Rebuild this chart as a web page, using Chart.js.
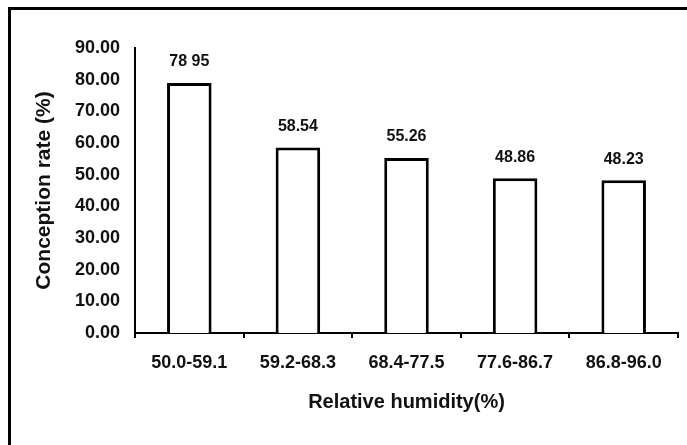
<!DOCTYPE html>
<html lang="en">
<head>
    <meta charset="UTF-8">
    <title>Conception rate by relative humidity</title>
    <script src="https://cdn.jsdelivr.net/npm/chart.js"></script>
    <style>
        body {
            margin: 0;
            background-color: #fff;
            width: 687px;
            height: 445px;
            overflow: hidden;
            position: relative;
        }
        #humidityChart {
            position: absolute;
            left: 0;
            top: 0;
        }
        /* scanned frame: only top and left edges are visible */
        .frame {
            position: absolute;
            left: 8px;
            top: 7px;
            width: 700px;
            height: 460px;
            border-top: 3px solid #000;
            border-left: 3px solid #000;
            pointer-events: none;
        }
    </style>
</head>
<body>
    <canvas id="humidityChart" width="687" height="445"></canvas>
    <div class="frame"></div>

    <script>
        // Data
        const humidityRanges = ['50.0-59.1', '59.2-68.3', '68.4-77.5', '77.6-86.7', '86.8-96.0'];
        const conceptionRates = [78.95, 58.54, 55.26, 48.86, 48.23];
        const valueLabels = ['78 95', '58.54', '55.26', '48.86', '48.23'];

        const fontFamily = '"Liberation Sans", Arial, sans-serif';

        // Draw the value above each bar
        const valueLabelPlugin = {
            id: 'valueLabels',
            afterDatasetsDraw(chart) {
                const ctx = chart.ctx;
                const meta = chart.getDatasetMeta(0);
                ctx.save();
                ctx.font = 'bold 16px ' + fontFamily;
                ctx.fillStyle = '#111';
                ctx.textAlign = 'center';
                ctx.textBaseline = 'middle';
                meta.data.forEach((bar, i) => {
                    ctx.fillText(valueLabels[i], bar.x, bar.y - 21);
                });
                ctx.restore();
            }
        };

        const ctx = document.getElementById('humidityChart').getContext('2d');
        new Chart(ctx, {
            type: 'bar',
            data: {
                labels: humidityRanges,
                datasets: [{
                    label: 'Conception rate (%)',
                    data: conceptionRates,
                    backgroundColor: '#fff',
                    borderColor: '#000',
                    borderWidth: 3,
                    categoryPercentage: 1,
                    barPercentage: 0.41
                }]
            },
            options: {
                responsive: false,
                devicePixelRatio: 1,
                animation: false,
                layout: {
                    padding: { left: 0, right: 9, top: 48, bottom: 31 }
                },
                plugins: {
                    legend: { display: false },
                    tooltip: { enabled: false }
                },
                scales: {
                    x: {
                        grid: {
                            display: true,
                            drawOnChartArea: false,
                            drawTicks: true,
                            tickLength: 5,
                            color: '#000',
                            lineWidth: 2
                        },
                        border: { display: true, color: '#000', width: 2 },
                        ticks: {
                            color: '#111',
                            padding: 14,
                            font: { family: fontFamily, size: 18, weight: 'bold' }
                        },
                        title: {
                            display: true,
                            text: 'Relative humidity(%)',
                            color: '#111',
                            padding: { top: 0, bottom: 0 },
                            font: { family: fontFamily, size: 20, weight: 'bold' }
                        },
                        afterFit: (scale) => { scale.height = 81; }
                    },
                    y: {
                        min: 0,
                        max: 90,
                        grid: { display: false, drawTicks: false },
                        border: { display: true, color: '#000', width: 2 },
                        ticks: {
                            stepSize: 10,
                            color: '#111',
                            padding: 15,
                            font: { family: fontFamily, size: 18, weight: 'bold' },
                            callback: (value) => Number(value).toFixed(2)
                        },
                        title: {
                            display: true,
                            text: 'Conception rate (%)',
                            color: '#111',
                            padding: { top: 32, bottom: 0 },
                            font: { family: fontFamily, size: 21, weight: 'bold' }
                        },
                        afterFit: (scale) => { scale.width = 135; }
                    }
                }
            },
            plugins: [valueLabelPlugin]
        });
    </script>
</body>
</html>
